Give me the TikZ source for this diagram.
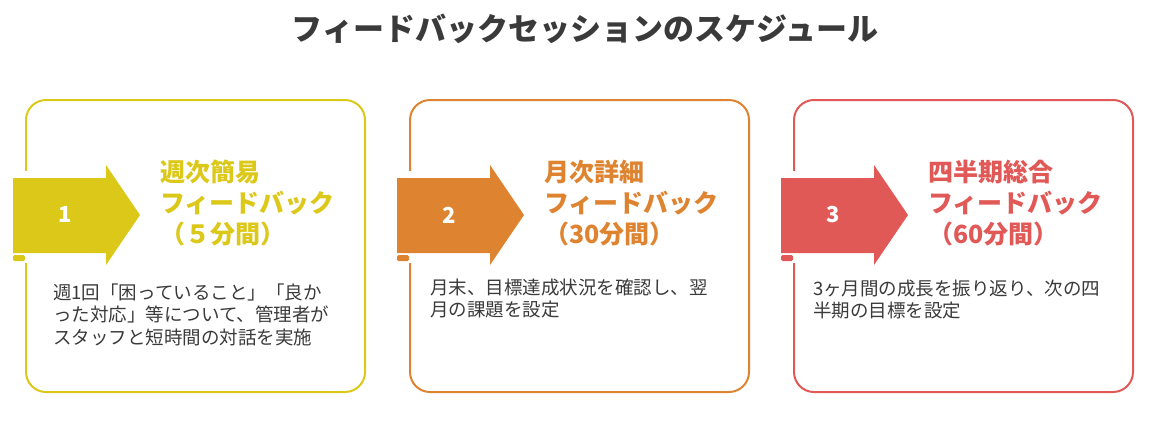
\documentclass[tikz,border=0pt]{standalone}
\usepackage{fontspec}
\usepackage{tikz}
\newfontfamily\jp{Noto Sans CJK JP}
\definecolor{ylw}{HTML}{DCC819}
\definecolor{org}{HTML}{DE8431}
\definecolor{rd}{HTML}{E15957}
\definecolor{ink}{HTML}{3A3A3A}
\tikzset{
  panel/.style={draw=#1, line width=2pt, rounded corners=20pt,
    minimum width=339pt, minimum height=292pt, inner sep=0pt},
  badge/.style={fill=#1},
  numtxt/.style={text=white, font=\jp\bfseries\fontsize{22}{22}\selectfont, inner sep=0pt},
  headtxt/.style={text=#1, font=\jp\bfseries\fontsize{25}{31}\selectfont,
    align=left, anchor=base west, inner sep=0pt},
  bodytxt/.style={text=ink, font=\jp\fontsize{18.5}{22.5}\selectfont,
    align=left, anchor=base west, inner sep=0pt}
}

\begin{document}
\begin{tikzpicture}[x=1pt, y=-1pt]
  \useasboundingbox (0,0) rectangle (1161,421);
  \node[text=ink, font=\jp\bfseries\fontsize{31}{31}\selectfont, anchor=base, inner sep=0pt]
    (title) at (585,40) {フィードバックセッションのスケジュール};

  \node[panel=ylw] (box1) at (195.5,246) {};
  \node[panel=org] (box2) at (579.5,246) {};
  \node[panel=rd] (box3) at (963.5,246) {};

  % gaps in the left sides
  \fill[white] (22,171) rectangle (30,263);
  \fill[white] (406,171) rectangle (414,263);
  \fill[white] (790,171) rectangle (798,263);

  % arrows
  \fill[badge=ylw] (13,253) -- (13,178) -- (106,178) -- (106,165) -- (140,215) -- (106,265) -- (106,253) -- cycle;
  \fill[badge=ylw, rounded corners=1.5pt] (13,255) rectangle (25,261);
  \fill[badge=org] (397,253) -- (397,178) -- (490,178) -- (490,165) -- (524,215) -- (490,265) -- (490,253) -- cycle;
  \fill[badge=org, rounded corners=1.5pt] (397,255) rectangle (409,261);
  \fill[badge=rd] (781,253) -- (781,178) -- (874,178) -- (874,165) -- (908,215) -- (874,265) -- (874,253) -- cycle;
  \fill[badge=rd, rounded corners=1.5pt] (781,255) rectangle (793,261);

  \node[numtxt] (num1) at (65,215) {1};
  \node[numtxt] (num2) at (449,215) {2};
  \node[numtxt] (num3) at (833,215) {3};

  % anchors sit on the last line
  \node[headtxt=ylw] (head1) at (160,243.5) {週次簡易\\フィードバック\\（５分間）};
  \node[headtxt=org] (head2) at (544,243.5) {月次詳細\\フィードバック\\（30分間）};
  \node[headtxt=rd] (head3) at (928,243.5) {四半期総合\\フィードバック\\（60分間）};

  \node[bodytxt] (body1) at (53,344) {週1回「困っていること」「良か\\った対応」等について、管理者が\\スタッフと短時間の対話を実施};
  \node[bodytxt] (body2) at (430,316.5) {月末、目標達成状況を確認し、翌\\月の課題を設定};
  \node[bodytxt] (body3) at (813,317.5) {3ヶ月間の成長を振り返り、次の四\\半期の目標を設定};
\end{tikzpicture}
\end{document}
